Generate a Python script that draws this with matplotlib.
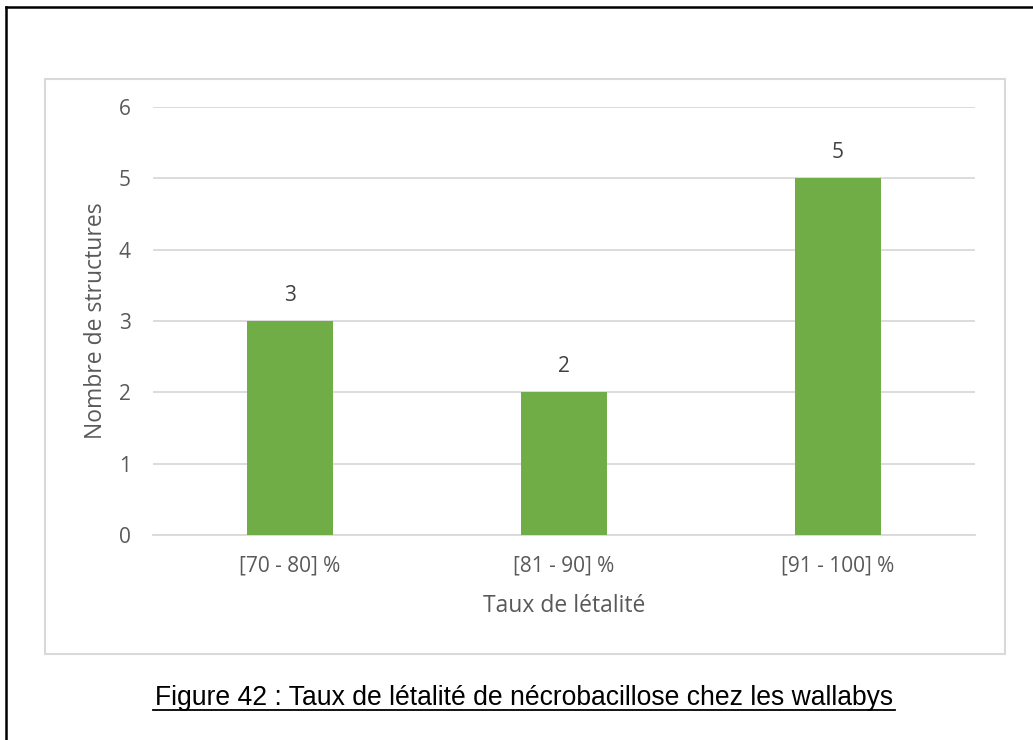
import matplotlib
matplotlib.use("Agg")
import matplotlib.pyplot as plt
from matplotlib.patches import Rectangle
from matplotlib.lines import Line2D

categories = ["[70 - 80] %", "[81 - 90] %", "[91 - 100] %"]
values = [3, 2, 5]
yticks = [0, 1, 2, 3, 4, 5, 6]

W, H = 1033, 740
fig = plt.figure(figsize=(W / 100, H / 100), dpi=100)

def fx(px):
    return px / W

def fy(py):
    return 1 - py / H

# outer black frame (left + top)
fig.add_artist(Line2D([fx(6), fx(6)], [fy(7), 0], color="black", lw=1.8, transform=fig.transFigure))
fig.add_artist(Line2D([fx(6), 1], [fy(7), fy(7)], color="black", lw=1.8, transform=fig.transFigure))
# inner chart box
fig.add_artist(Rectangle((fx(45), fy(654)), fx(1005) - fx(45), fy(79) - fy(654),
                         fill=False, edgecolor="#d9d9d9", lw=1.5, transform=fig.transFigure))

ax = fig.add_axes([fx(153), fy(535), fx(975) - fx(153), fy(107) - fy(535)])
x = list(range(len(categories)))
bars = ax.bar(x, values, width=0.314, color="#70ad47", zorder=3)
ax.set_xlim(-0.5, len(categories) - 0.5)
ax.set_ylim(0, 6)
ax.set_yticks(yticks)
ax.set_xticks(x)
ax.set_xticklabels(categories)
ax.grid(axis="y", color="#d9d9d9", lw=1.3, zorder=0)
for s in ["top", "right", "left"]:
    ax.spines[s].set_visible(False)
ax.spines["bottom"].set_color("#d9d9d9")
ax.spines["bottom"].set_linewidth(1.3)
ax.tick_params(axis="both", length=0, colors="#595959", labelsize=15)
ax.tick_params(axis="y", pad=16)
ax.tick_params(axis="x", pad=15)
for lab in ax.get_xticklabels() + ax.get_yticklabels():
    lab.set_family("Open Sans")

for xi, v in zip(x, values):
    ax.annotate(str(v), (xi, v), xytext=(0, 11), textcoords="offset points",
                ha="center", va="bottom", fontsize=15, color="#404040", family="Open Sans")

ax.set_ylabel("Nombre de structures", fontsize=16.5, color="#595959", family="Open Sans", labelpad=8)
ax.set_xlabel("Taux de létalité", fontsize=16.5, color="#595959", family="Open Sans", labelpad=12)

fig.text(fx(524), fy(705), "Figure 42 : Taux de létalité de nécrobacillose chez les wallabys",
         ha="center", va="baseline", fontsize=19.1, family="Liberation Sans",
         color="black")
fig.add_artist(Line2D([fx(153), fx(895)], [fy(710), fy(710)], color="black", lw=1.3,
                      transform=fig.transFigure))

fig.savefig("out.png", dpi=100, facecolor="white")
